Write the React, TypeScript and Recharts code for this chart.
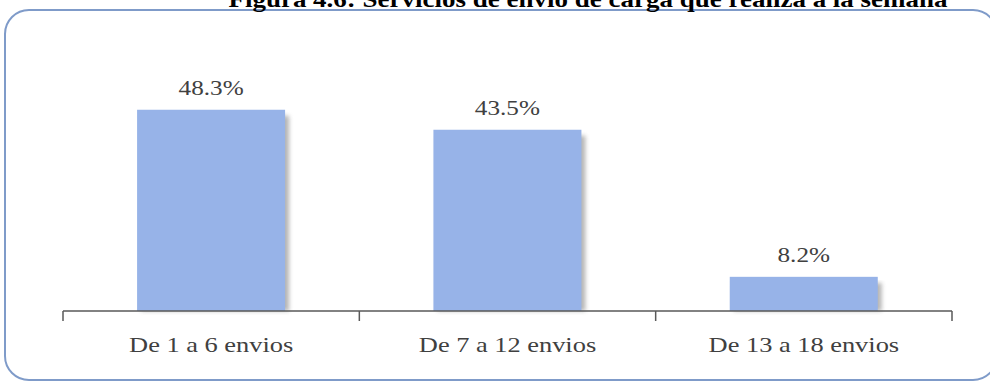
import React from "react";
import { BarChart, Bar, XAxis, YAxis, LabelList } from "recharts";

// Weekly cargo shipments, share of respondents (%)
const categories = ["De 1 a 6 envios", "De 7 a 12 envios", "De 13 a 18 envios"];
const shares = [48.3, 43.5, 8.2];
const title = "Figura 4.6: Servicios de envio de carga que realiza a la semana";

const data = categories.map((name, i) => ({ name, value: shares[i] }));

const W = 990;
const H = 383;
const margin = { top: 61, right: 38, left: 63, bottom: 0 };
const plotWidth = W - margin.left - margin.right;
const band = plotWidth / categories.length;
const serif = "Liberation Serif, Times New Roman, serif";
const textColor = "#404040";
// text in this figure is set slightly wide
const stretch = 1.2;

const ShadowBar = (props: any) => {
  const { x, y, width, height } = props;
  if (!height || height <= 0) return null;
  return (
    <g>
      <rect
        x={x + 4}
        y={y + 6}
        width={width}
        height={height - 6}
        fill="#7a7a7a"
        opacity={0.55}
        filter="url(#barShadow)"
      />
      <rect x={x} y={y} width={width} height={height} fill="#97B3E8" />
    </g>
  );
};

const WideText = ({ x, y, size, children, weight, color }: any) => (
  <text
    transform={`translate(${x},${y}) scale(${stretch},1)`}
    x={0}
    y={0}
    textAnchor="middle"
    style={{ fontFamily: serif, fontSize: size, fontWeight: weight || "normal" }}
    fill={color || textColor}
  >
    {children}
  </text>
);

const CategoryTick = (props: any) => {
  const { x, y, payload, index } = props;
  const left = x - band / 2;
  const right = x + band / 2;
  return (
    <g>
      <line x1={left} y1={y} x2={left} y2={y + 10} stroke="#595959" strokeWidth={1.5} />
      {index === categories.length - 1 && (
        <line x1={right} y1={y} x2={right} y2={y + 10} stroke="#595959" strokeWidth={1.5} />
      )}
      <WideText x={x} y={y + 41} size={22}>
        {payload.value}
      </WideText>
    </g>
  );
};

const ValueLabel = (props: any) => {
  const { x, y, width, value } = props;
  return (
    <WideText x={x + width / 2} y={y - 15} size={21}>
      {`${Number(value).toFixed(1)}%`}
    </WideText>
  );
};

export default function App() {
  return (
    <div
      style={{
        position: "absolute",
        left: 0,
        top: 0,
        width: W,
        height: H,
        overflow: "hidden",
        background: "#ffffff",
      }}
    >
      <svg width={W} height={H} style={{ position: "absolute", left: 0, top: 0 }}>
        <rect
          x={5}
          y={10}
          width={992}
          height={370}
          rx={24}
          ry={24}
          fill="#ffffff"
          stroke="#7F9BC9"
          strokeWidth={2}
        />
        <WideText x={588} y={7} size={22.5} weight="bold" color="#000000">
          {title}
        </WideText>
      </svg>
      <div style={{ position: "absolute", left: 0, top: 0 }}>
        <BarChart width={W} height={H} data={data} margin={margin} barCategoryGap="25%">
          <defs>
            <filter id="barShadow" x="-10%" y="-10%" width="130%" height="130%">
              <feGaussianBlur stdDeviation="2" />
            </filter>
          </defs>
          <YAxis hide domain={[0, 60]} />
          <XAxis
            dataKey="name"
            height={72}
            axisLine={{ stroke: "#595959", strokeWidth: 1.5 }}
            tickLine={false}
            tickSize={0}
            tickMargin={0}
            tick={<CategoryTick />}
            interval={0}
          />
          <Bar dataKey="value" shape={<ShadowBar />} isAnimationActive={false}>
            <LabelList dataKey="value" content={<ValueLabel />} />
          </Bar>
        </BarChart>
      </div>
    </div>
  );
}
